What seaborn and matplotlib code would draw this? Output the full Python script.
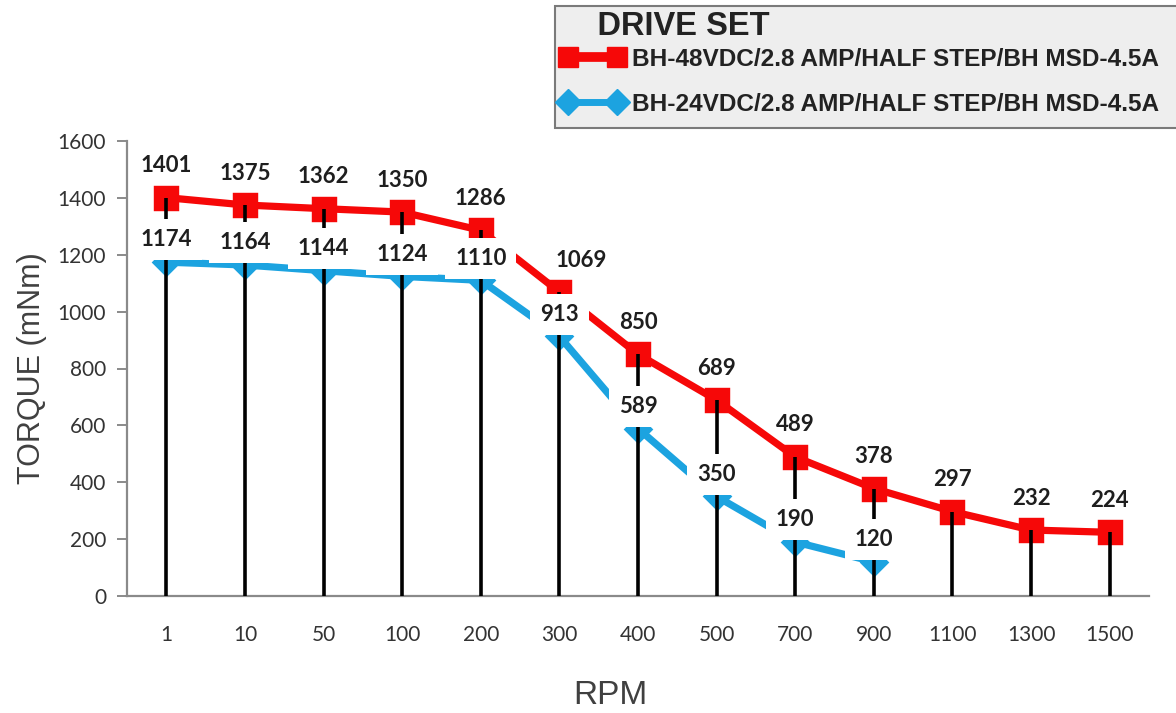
import matplotlib
matplotlib.use("Agg")
import matplotlib.pyplot as plt
import numpy as np
import pandas as pd
import seaborn as sns
from matplotlib.lines import Line2D
from matplotlib.patches import Rectangle

# ── Dados ────────────────────────────────────────────────────────────────────

RPM = ["1", "10", "50", "100", "200", "300", "400", "500", "700", "900",
       "1100", "1300", "1500"]
TORQUE_48V = [1401, 1375, 1362, 1350, 1286, 1069, 850, 689, 489, 378, 297, 232, 224]
TORQUE_24V = [1174, 1164, 1144, 1124, 1110, 913, 589, 350, 190, 120]

LABEL_48V = "BH-48VDC/2.8 AMP/HALF STEP/BH MSD-4.5A"
LABEL_24V = "BH-24VDC/2.8 AMP/HALF STEP/BH MSD-4.5A"
Y_TICKS = [0, 200, 400, 600, 800, 1000, 1200, 1400, 1600]

RED = "#f60808"
BLUE = "#1ca3e0"
TEXT = "#1e1e1e"
AXIS_GRAY = "#8a8a8a"

# ── Estilo ───────────────────────────────────────────────────────────────────

sns.set_style("white")
plt.rcParams["font.family"] = ["Lato", "DejaVu Sans"]

df = pd.concat([
    pd.DataFrame({"RPM": RPM, "Torque": TORQUE_48V, "Set": LABEL_48V}),
    pd.DataFrame({"RPM": RPM[:len(TORQUE_24V)], "Torque": TORQUE_24V, "Set": LABEL_24V}),
], ignore_index=True)

W, H = 1176, 713
fig = plt.figure(figsize=(W / 100, H / 100), dpi=100)
ax = fig.add_axes([127 / W, 1 - 596 / H, 1022 / W, 455 / H])

sns.pointplot(
    data=df, x="RPM", y="Torque", hue="Set",
    order=RPM, hue_order=[LABEL_48V, LABEL_24V],
    palette=[RED, BLUE], markers=["s", "D"], linestyles=["-", "-"],
    errorbar=None, legend=False, ax=ax,
    markersize=14, linewidth=5.2, zorder=2,
)
for line in ax.lines:
    if line.get_marker() == "D":
        line.set_markersize(11)

# linhas verticais até o eixo
tops = [max(a, b) for a, b in zip(TORQUE_48V, TORQUE_24V + [0] * (len(RPM) - len(TORQUE_24V)))]
ax.vlines(np.arange(len(RPM)), 0, tops, color="black", lw=2.6, zorder=3)

# rótulos de dados
for i, v in enumerate(TORQUE_48V):
    dx = 16 if RPM[i] == "300" else 0
    ax.annotate(str(v), (i, v), xytext=(dx, 23), textcoords="offset points",
                ha="center", va="center", fontsize=16, fontweight="bold",
                color=TEXT, zorder=5)
for i, v in enumerate(TORQUE_24V):
    ax.annotate(str(v), (i, v), xytext=(0, 16), textcoords="offset points",
                ha="center", va="center", fontsize=16, fontweight="bold",
                color=TEXT, zorder=5,
                bbox=dict(boxstyle="square,pad=0.45", fc="white", ec="none"))

# eixos
ax.set_xlim(-0.5, len(RPM) - 0.5)
ax.set_ylim(0, 1600)
ax.set_yticks(Y_TICKS)
sns.despine(ax=ax)
for side in ["left", "bottom"]:
    ax.spines[side].set_color(AXIS_GRAY)
    ax.spines[side].set_linewidth(1.6)
ax.tick_params(axis="y", direction="out", length=7, width=1.4, color=AXIS_GRAY,
               pad=8, labelsize=15, labelcolor="#333333", left=True)
ax.tick_params(axis="x", length=0, pad=21, labelsize=15, labelcolor="#333333")

ax.set_xlabel("RPM", fontsize=24, family="Liberation Sans", color="#404040")
ax.set_ylabel("TORQUE (mNm)", fontsize=22, family="Liberation Sans", color="#404040")
ax.xaxis.set_label_coords(0.473, -0.185)
ax.yaxis.set_label_coords(-0.078, 0.5)

# legenda: caixa cinza desenhada à parte (passa da borda direita, como no original)
fig.patches.append(Rectangle(
    (555 / W, 1 - 128 / H), (1200 - 555) / W, (128 - 6) / H,
    transform=fig.transFigure, facecolor="#eeeeee", edgecolor="#7a7a7a",
    linewidth=1.5, zorder=0,
))
handles = [
    Line2D([], [], color=RED, lw=7, marker="s", ms=15),
    Line2D([], [], color=BLUE, lw=5, marker="D", ms=13),
]
leg = fig.legend(
    handles, [LABEL_48V, LABEL_24V], title="    DRIVE SET",
    loc="upper left", bbox_to_anchor=(555 / W, 1 - 5 / H), borderaxespad=0,
    numpoints=2, handlelength=2.6, handletextpad=0.3, borderpad=0.25,
    labelspacing=0.9, frameon=False, alignment="left",
    prop=dict(family="Liberation Sans", weight="bold", size=17.6),
    title_fontproperties=dict(family="Liberation Sans", weight="bold", size=23.5),
)
leg._legend_box.sep = 4
for t in leg.get_texts():
    t.set_color("#222222")
leg.get_title().set_color("#222222")

fig.savefig("out.png", dpi=100)
